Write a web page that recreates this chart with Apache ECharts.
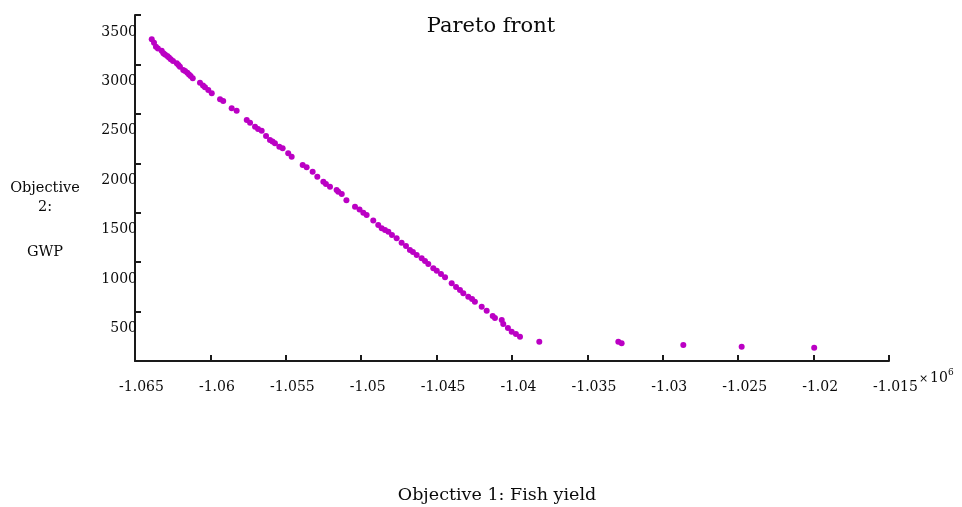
<!DOCTYPE html>
<html>
<head>
<meta charset="utf-8">
<script src="https://cdn.jsdelivr.net/npm/echarts@6/dist/echarts.min.js"></script>
<style>
html,body{margin:0;padding:0;background:#fff;}
#chart{width:962px;height:507px;}
</style>
</head>
<body>
<div id="chart"></div>
<script>
// Objective 1: Fish yield (x 10^6)
const fishYield = [
-1.06389,-1.06374,-1.06361,-1.06348,-1.06323,-1.06312,-1.06301,-1.06286,-1.06275,-1.06263,
-1.06248,-1.06223,-1.06212,-1.06202,-1.06180,-1.06168,-1.06153,-1.06142,-1.06131,-1.06117,
-1.06069,-1.06049,-1.06036,-1.06014,-1.05991,-1.05936,-1.05915,-1.05859,-1.05826,-1.05759,
-1.05737,-1.05704,-1.05684,-1.05660,-1.05631,-1.05605,-1.05588,-1.05572,-1.05543,-1.05521,
-1.05484,-1.05461,-1.05388,-1.05362,-1.05322,-1.05291,-1.05251,-1.05234,-1.05207,-1.05163,
-1.05152,-1.05129,-1.05098,-1.05041,-1.05011,-1.04986,-1.04964,-1.04920,-1.04887,-1.04864,
-1.04842,-1.04820,-1.04796,-1.04765,-1.04732,-1.04703,-1.04677,-1.04657,-1.04632,-1.04599,
-1.04577,-1.04555,-1.04522,-1.04499,-1.04471,-1.04444,-1.04400,-1.04371,-1.04345,-1.04323,
-1.04290,-1.04265,-1.04246,-1.04201,-1.04168,-1.04128,-1.04113,-1.04068,-1.04058,-1.04027,
-1.04002,-1.03974,-1.03947,-1.03819,-1.03295,-1.03273,-1.02864,-1.02477,-1.01996
];
// Objective 2: GWP
const gwp = [
3254,3220,3179,3161,3139,3113,3101,3085,3070,3052,
3035,3012,2994,2977,2944,2934,2916,2898,2883,2860,
2815,2787,2769,2741,2708,2647,2630,2556,2532,2438,
2411,2370,2347,2330,2276,2236,2220,2202,2168,2152,
2101,2067,1983,1959,1915,1864,1814,1791,1763,1730,
1713,1689,1626,1561,1533,1500,1477,1421,1376,1342,
1325,1308,1275,1241,1197,1163,1123,1103,1072,1039,
1012,981,938,913,880,847,786,749,718,685,
650,627,600,549,509,455,435,415,374,334,
296,273,246,195,195,179,162,145,135
];
const titleText = 'Pareto front';
const xAxisTitle = 'Objective 1: Fish yield';
const yAxisTitleLines = ['Objective', '2:', 'GWP'];
const xScaleNote = ['×', '10', '6'];
const xMin = -1.065, xMax = -1.015, xStep = 0.005;
const yMin = 0, yMax = 3500, yStep = 500;

const points = fishYield.map((x, i) => [x, gwp[i]]);
const serif = '"DejaVu Serif", "Liberation Serif", serif';
const ink = '#0a0a0a';

const chart = echarts.init(document.getElementById('chart'), null, {renderer: 'canvas'});
chart.setOption({
  backgroundColor: '#ffffff',
  animation: false,
  grid: {left: 135, right: 73, top: 15, bottom: 146, containLabel: false},
  xAxis: {
    type: 'value', min: xMin, max: xMax, interval: xStep,
    axisLine: {show: true, onZero: false, lineStyle: {color: '#1a1a1a', width: 2}},
    axisTick: {show: true, inside: true, length: 6, lineStyle: {color: '#1a1a1a', width: 2}},
    splitLine: {show: false},
    axisLabel: {
      margin: 19, color: ink, fontFamily: serif, fontSize: 14,
      formatter: v => '{a|' + String(Math.round(v * 1000) / 1000) + '}',
      rich: {a: {fontFamily: serif, fontSize: 14, color: ink, padding: [0, 0, 0, 13]}}
    }
  },
  yAxis: {
    type: 'value', min: yMin, max: yMax, interval: yStep,
    axisLine: {show: true, onZero: false, lineStyle: {color: '#1a1a1a', width: 2}},
    axisTick: {show: true, inside: true, length: 6, lineStyle: {color: '#1a1a1a', width: 2}},
    splitLine: {show: false},
    axisLabel: {
      margin: -2, color: ink, fontFamily: serif, fontSize: 14,
      showMinLabel: false, verticalAlign: 'top', lineHeight: 34,
      formatter: v => String(v)
    }
  },
  series: [{
    type: 'scatter',
    data: points,
    symbol: 'circle',
    symbolSize: 6,
    itemStyle: {color: '#bb00c4', opacity: 1},
    z: 3
  }],
  graphic: [
    {type: 'text', x: 491, y: 27, style: {text: titleText, fill: ink, font: '21px ' + serif, textAlign: 'center', textVerticalAlign: 'middle'}},
    {type: 'text', x: 497, y: 495, style: {text: xAxisTitle, fill: ink, font: '17.5px ' + serif, textAlign: 'center', textVerticalAlign: 'middle'}},
    {type: 'text', x: 45, y: 188, style: {text: yAxisTitleLines[0], fill: ink, font: '14.5px ' + serif, textAlign: 'center', textVerticalAlign: 'middle'}},
    {type: 'text', x: 45, y: 207, style: {text: yAxisTitleLines[1], fill: ink, font: '14.5px ' + serif, textAlign: 'center', textVerticalAlign: 'middle'}},
    {type: 'text', x: 45, y: 252, style: {text: yAxisTitleLines[2], fill: ink, font: '14.5px ' + serif, textAlign: 'center', textVerticalAlign: 'middle'}},
    {type: 'text', x: 919, y: 379, style: {text: xScaleNote[0], fill: ink, font: '11px ' + serif, textAlign: 'left', textVerticalAlign: 'middle'}},
    {type: 'text', x: 930, y: 378, style: {text: xScaleNote[1], fill: ink, font: '14px ' + serif, textAlign: 'left', textVerticalAlign: 'middle'}},
    {type: 'text', x: 948, y: 373, style: {text: xScaleNote[2], fill: ink, font: '9px ' + serif, textAlign: 'left', textVerticalAlign: 'middle'}}
  ]
});
</script>
</body>
</html>
